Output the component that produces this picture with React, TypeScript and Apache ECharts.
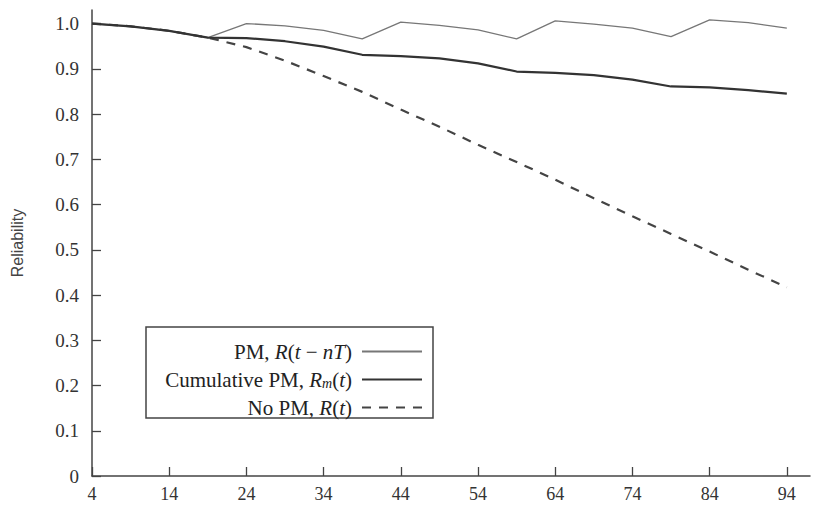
import React, { useEffect, useRef } from "react";
import * as echarts from "echarts";

const tValues = [4, 9, 14, 19, 24, 29, 34, 39, 44, 49, 54, 59, 64, 69, 74, 79, 84, 89, 94];
const pmValues = [1.0, 0.994, 0.984, 0.969, 1.0, 0.995, 0.985, 0.966, 1.003, 0.996, 0.986, 0.966, 1.006, 0.999, 0.99, 0.971, 1.008, 1.002, 0.99];
const cumulativeValues = [1.0, 0.994, 0.984, 0.969, 0.968, 0.961, 0.949, 0.931, 0.928, 0.923, 0.912, 0.894, 0.891, 0.886, 0.876, 0.861, 0.859, 0.853, 0.845];
const noPmValues = [1.0, 0.994, 0.984, 0.969, 0.948, 0.918, 0.884, 0.849, 0.81, 0.772, 0.732, 0.694, 0.655, 0.614, 0.574, 0.535, 0.496, 0.456, 0.417];
const xTicks = [4, 14, 24, 34, 44, 54, 64, 74, 84, 94];
const yTicks = [0, 0.1, 0.2, 0.3, 0.4, 0.5, 0.6, 0.7, 0.8, 0.9, 1.0];
const seriesNames = ["PM", "Cumulative PM", "No PM"];
const legendLabels: Record<string, string> = {
  PM: "PM, {i|R}({i|t} − {i|nT})",
  "Cumulative PM": "Cumulative PM, {i|R}{s|m}({i|t})",
  "No PM": "No PM, {i|R}({i|t})",
};

const SERIF = "'Liberation Serif', 'DejaVu Serif', serif";

export default function App() {
  const ref = useRef<HTMLDivElement>(null);
  useEffect(() => {
    if (!ref.current) return;
    const chart = echarts.init(ref.current, null, { renderer: "svg" });
    const toPairs = (vals: number[]) => tValues.map((t, i) => [t, vals[i]]);
    const axisColor = "#444";
    chart.setOption({
      animation: false,
      backgroundColor: "#fff",
      grid: { left: 92, right: 5, top: 10, bottom: 29, containLabel: false, outerBoundsMode: "none" },
      xAxis: {
        type: "value",
        min: 4,
        max: 97,
        axisLine: { show: true, lineStyle: { color: axisColor, width: 1.5 } },
        axisTick: { show: true, inside: true, length: 9, customValues: xTicks, lineStyle: { color: axisColor, width: 1.3 } },
        axisLabel: { customValues: xTicks, fontFamily: SERIF, fontSize: 18, color: "#333", margin: 9 },
        splitLine: { show: false },
      },
      yAxis: {
        type: "value",
        min: 0,
        max: 1.03,
        name: "Reliability",
        nameLocation: "middle",
        nameRotate: 90,
        nameGap: 67,
        nameTextStyle: { fontFamily: "'Liberation Sans', Arial, sans-serif", fontSize: 16, color: "#444" },
        axisLine: { show: true, lineStyle: { color: axisColor, width: 1.5 } },
        axisTick: { show: true, inside: true, length: 9, customValues: yTicks, lineStyle: { color: axisColor, width: 1.3 } },
        axisLabel: {
          customValues: yTicks,
          fontFamily: SERIF,
          fontSize: 19,
          color: "#333",
          margin: 13,
          formatter: (v: number) => (v === 0 ? "0" : v.toFixed(1)),
        },
        splitLine: { show: false },
      },
      legend: {
        orient: "vertical",
        align: "right",
        right: 392,
        top: 341,
        padding: 0,
        itemWidth: 60,
        itemHeight: 14,
        itemGap: 7,
        data: seriesNames,
        formatter: (name: string) => legendLabels[name],
        itemStyle: { color: "transparent", borderWidth: 0, opacity: 0 },
        textStyle: {
          fontFamily: SERIF,
          fontSize: 21,
          color: "#222",
          lineHeight: 21,
          padding: [0, 5, 0, 0],
          rich: {
            i: { fontFamily: SERIF, fontSize: 21, fontStyle: "italic", color: "#222", lineHeight: 21 },
            s: { fontFamily: SERIF, fontSize: 14, fontStyle: "italic", color: "#222", lineHeight: 14, verticalAlign: "bottom" },
          },
        },
      },
      graphic: [
        {
          type: "rect",
          shape: { x: 146, y: 327, width: 287, height: 91 },
          style: { fill: "none", stroke: "#444", lineWidth: 1.5 },
          silent: true,
        },
      ],
      series: [
        {
          name: seriesNames[0],
          type: "line",
          data: toPairs(pmValues),
          symbol: "none",
          lineStyle: { color: "#777", width: 1.3 },
          itemStyle: { color: "#777" },
          silent: true,
          z: 3,
        },
        {
          name: seriesNames[1],
          type: "line",
          data: toPairs(cumulativeValues),
          symbol: "none",
          lineStyle: { color: "#333", width: 2.2 },
          itemStyle: { color: "#333" },
          silent: true,
          z: 4,
        },
        {
          name: seriesNames[2],
          type: "line",
          data: toPairs(noPmValues),
          symbol: "none",
          lineStyle: { color: "#444", width: 2.2, type: [9, 8] },
          itemStyle: { color: "#444" },
          silent: true,
          z: 2,
        },
      ],
    });
    return () => chart.dispose();
  }, []);
  return <div ref={ref} style={{ position: "absolute", left: 0, top: 0, width: 815, height: 505 }} />;
}
